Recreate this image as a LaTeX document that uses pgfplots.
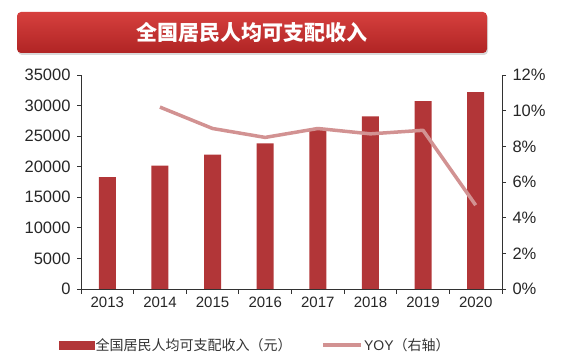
\documentclass[border=0pt]{standalone}
\usepackage{fontspec}
\setmainfont{Liberation Sans}
\newfontfamily\cjk{Noto Sans CJK SC}
\usepackage{pgfplots}
\pgfplotsset{compat=1.18}
\usetikzlibrary{shadows}
\definecolor{barcol}{RGB}{178,54,56}
\definecolor{linecol}{RGB}{210,146,146}
\definecolor{axcol}{RGB}{50,50,50}
\definecolor{bannertop}{RGB}{214,64,62}
\definecolor{bannerbot}{RGB}{176,36,36}
\begin{document}
\begin{tikzpicture}
\path[use as bounding box] (0pt,0pt) rectangle (588pt,361pt);
\node[rounded corners=4pt, minimum width=470pt, minimum height=41pt, top color=bannertop, bottom color=bannerbot,
  drop shadow={opacity=0.3,shadow xshift=1pt,shadow yshift=-2pt}, text=white,
  font=\cjk\bfseries\fontsize{21}{21}\selectfont] at (252pt,328.5pt) {全国居民人均可支配收入};
\begin{axis}[
  at={(81pt,72pt)}, anchor=south west, width=421pt, height=214pt, scale only axis,
  xmin=-0.5, xmax=7.5, ymin=0, ymax=35000,
  axis x line*=bottom, axis y line*=left,
  axis line style={axcol, line width=0.8pt},
  xtick={0,1,2,3,4,5,6,7}, xticklabels={2013,2014,2015,2016,2017,2018,2019,2020},
  major x tick style={draw=none},
  minor xtick={-0.5,0.5,...,7.5},
  minor x tick style={axcol, line width=0.8pt},
  tick align=outside, major tick length=4pt, minor tick length=5pt,
  ytick={0,5000,...,35000},
  y tick style={axcol, line width=0.8pt},
  scaled y ticks=false,
  /pgf/number format/.cd, set thousands separator={}, assume math mode=true,
  /pgfplots/.cd,
  xticklabel style={font=\fontsize{15}{15}\selectfont, text=black!85},
  yticklabel style={font=\fontsize{16.5}{16.5}\selectfont, text=black!85, xshift=-3pt},
]
\addplot[ybar, bar width=17pt, fill=barcol, draw=none] coordinates {
(0,18311) (1,20167) (2,21966) (3,23821) (4,25974) (5,28228) (6,30733) (7,32189)};
\end{axis}
\begin{axis}[
  at={(81pt,72pt)}, anchor=south west, width=421pt, height=214pt, scale only axis,
  xmin=-0.5, xmax=7.5, ymin=0, ymax=12,
  axis x line=none, axis y line*=right,
  axis line style={axcol, line width=0.8pt},
  ytick={0,2,...,12},
  yticklabel={\pgfmathprintnumber{\tick}\%},
  tick align=outside, major tick length=4pt,
  y tick style={axcol, line width=0.8pt},
  /pgf/number format/.cd, assume math mode=true,
  /pgfplots/.cd,
  yticklabel style={font=\fontsize{16.5}{16.5}\selectfont, text=black!85, xshift=3pt},
  legend style={at={(0.413,-0.262)}, anchor=center, draw=none, fill=none,
    font=\fontsize{14}{14}\selectfont, text=black!80, nodes={inner sep=1.5pt},
    /tikz/every even column/.append style={column sep=28pt}},
  legend columns=2, legend cell align=left,
]
\addlegendimage{legend image code/.code={\fill[barcol] (0pt,-4pt) rectangle (35pt,4pt);}}
\addlegendentry{\cjk 全国居民人均可支配收入（元）}
\addplot[linecol, line width=3.5pt, line join=round,
  legend image code/.code={\draw[linecol,line width=3.5pt] (0pt,0pt) -- (38pt,0pt);}]
  coordinates {(1,10.2) (2,9.0) (3,8.5) (4,9.0) (5,8.7) (6,8.9) (7,4.7)};
\addlegendentry{YOY{\cjk（右轴）}}
\end{axis}
\end{tikzpicture}
\end{document}
